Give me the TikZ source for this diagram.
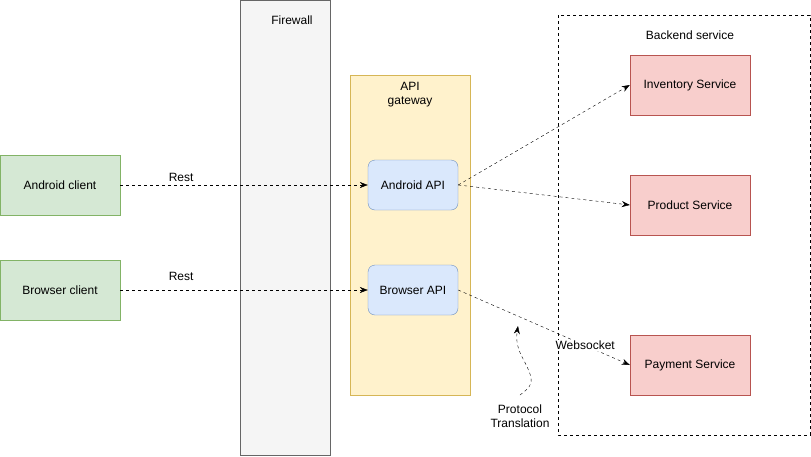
\documentclass[tikz,border=0pt]{standalone}
\usepackage{fontspec}
\setmainfont{Liberation Sans}
\usepackage{tikz}
\usetikzlibrary{arrows.meta}
\usetikzlibrary{positioning}

\definecolor{fwfill}{HTML}{F5F5F5}
\definecolor{fwline}{HTML}{666666}
\definecolor{gwfill}{HTML}{FFF2CC}
\definecolor{gwline}{HTML}{D6B656}
\definecolor{apifill}{HTML}{DAE8FC}
\definecolor{apiline}{HTML}{6C8EBF}
\definecolor{clfill}{HTML}{D5E8D4}
\definecolor{clline}{HTML}{82B366}
\definecolor{svfill}{HTML}{F8CECC}
\definecolor{svline}{HTML}{B85450}

\begin{document}
\begin{tikzpicture}[
	x=1pt, y=-1pt,
	every node/.style={font=\fontsize{12}{14}\selectfont, inner sep=0pt},
	client/.style={
		rectangle,
		draw=clline,
		fill=clfill,
		minimum width=120pt,
		minimum height=60pt
		},
	api/.style={
		rectangle,
		rounded corners=7pt,
		draw=apiline,
		fill=apifill,
		minimum width=90pt,
		minimum height=50pt
		},
	service/.style={
		rectangle,
		draw=svline,
		fill=svfill,
		minimum width=120pt,
		minimum height=60pt
		},
	call/.style={
		dash pattern=on 3pt off 3pt,
		-{Stealth[length=8pt,width=6pt]}
		},
	caption/.style={
		align=center
	}
]
\useasboundingbox (0,0) rectangle (811,456);

% Firewall and gateway
\draw [draw=fwline, fill=fwfill] (240,0) rectangle (330,455);
\node [caption] (Firewall) at (292,20) {Firewall};
\draw [draw=gwline, fill=gwfill] (350,75) rectangle (470,395);
\node [caption] (Gateway) at (410,95) {API\\gateway};

% Backend
\draw [dash pattern=on 3pt off 3pt] (558,15) rectangle (810,435);
\node [caption] (Backend) at (690,35) {Backend service};

% Clients
\node [client] (Android client) at (60,185) {Android client};
\node [client] (Browser client) at (60,290) {Browser client};

% APIs
\node [api] (Android API) at (413,185) {Android API};
\node [api] (Browser API) at (413,290) {Browser API};

% Services
\node [service] (Inventory) at (690,85) {Inventory Service};
\node [service] (Product) at (690,205) {Product Service};
\node [service] (Payment) at (690,365) {Payment Service};

% Calls
\draw [call] (Android client) -- node [pos=0.246, above=3pt] {Rest} (Android API);
\draw [call] (Browser client) -- node [pos=0.246, above=9pt] {Rest} (Browser API);
\draw [call] (Android API.east) -- (Inventory.west);
\draw [call] (Android API.east) -- (Product.west);
\draw [call] (Browser API.east) -- node [pos=0.74, fill=white, inner sep=1pt] {Websocket} (Payment.west);

% Protocol translation
\node [caption] (Protocol) at (520,416) {Protocol\\Translation};
\coordinate (Bend) at (531,378);
\coordinate (Tip) at (518,326);
\draw [call] (520,395) .. controls (528,389) and (533,384) .. (Bend)
	.. controls (528,362) and (514,352) .. (Tip);

\end{tikzpicture}
\end{document}
